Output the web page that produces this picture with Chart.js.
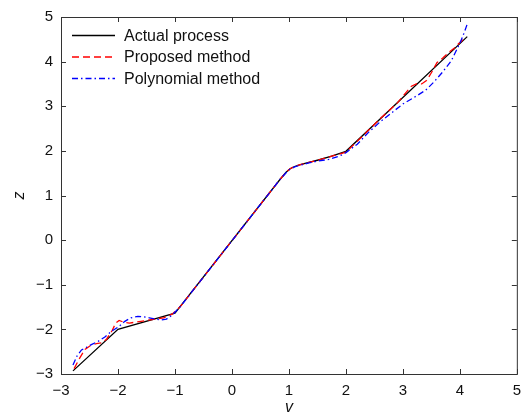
<!DOCTYPE html>
<html>
<head>
<meta charset="utf-8">
<script src="https://cdn.jsdelivr.net/npm/chart.js@4.4.1/dist/chart.umd.min.js"></script>
<style>
  html, body { margin: 0; padding: 0; background: #fff; }
  #wrap { width: 529px; height: 416px; }
</style>
</head>
<body>
<div id="wrap"><canvas id="myChart" width="529" height="416"></canvas></div>
<script>
// values (v on x, z on y)
const actualV = [-2.79, -2.0, -1.0, 0.85, 0.95, 1.02, 1.1, 1.2, 1.35, 1.5, 1.75, 2.0, 4.13];
const actualZ = [-2.93, -2.0, -1.635, 1.37, 1.52, 1.6, 1.65, 1.69, 1.74, 1.79, 1.88, 1.99, 4.56];

const proposedV = [-2.77, -2.68, -2.58, -2.48, -2.38, -2.28, -2.2, -2.1, -2.04, -1.98, -1.9, -1.8, -1.6, -1.4, -1.2, -1.05, -0.9,
  0.85, 0.95, 1.02, 1.1, 1.2, 1.35, 1.5, 1.75, 2.0, 2.3, 2.6, 2.9, 3.05, 3.15, 3.25, 3.33, 3.42, 3.5, 3.6, 3.7, 3.8, 3.9, 4.0, 4.1];
const proposedZ = [-2.88, -2.66, -2.45, -2.36, -2.32, -2.3, -2.22, -2.02, -1.86, -1.8, -1.84, -1.86, -1.82, -1.78, -1.74, -1.66, -1.48,
  1.37, 1.52, 1.6, 1.65, 1.69, 1.74, 1.79, 1.88, 1.97, 2.34, 2.72, 3.07, 3.3, 3.45, 3.51, 3.5, 3.58, 3.75, 3.98, 4.08, 4.2, 4.3, 4.43, 4.54];

const polyV = [-2.79, -2.72, -2.64, -2.55, -2.45, -2.35, -2.23, -2.1, -2.0, -1.88, -1.77, -1.65, -1.55, -1.45, -1.35, -1.25, -1.15, -1.05, -0.9,
  0.85, 0.95, 1.02, 1.1, 1.2, 1.35, 1.5, 1.7, 1.9, 2.0, 2.2, 2.4, 2.6, 2.8, 3.0, 3.2, 3.4, 3.55, 3.7, 3.85, 3.95, 4.02, 4.08, 4.14];
const polyZ = [-2.8, -2.6, -2.46, -2.4, -2.33, -2.27, -2.17, -2.03, -1.95, -1.82, -1.74, -1.71, -1.72, -1.74, -1.77, -1.79, -1.77, -1.68, -1.48,
  1.37, 1.51, 1.59, 1.64, 1.68, 1.73, 1.77, 1.81, 1.89, 1.96, 2.15, 2.42, 2.65, 2.85, 3.05, 3.2, 3.36, 3.55, 3.77, 4.02, 4.28, 4.47, 4.66, 4.88];

const seriesNames = ['Actual process', 'Proposed method', 'Polynomial method'];

function pts(xs, ys){
    return xs.map((x, i) => ({x: x, y: ys[i]}));
}

const fontFam = '"Liberation Sans", Arial, Helvetica, sans-serif';

function fmt(v){
    return String(v).replace('-', '\u2212');
}

// box round the plot + ticks pointing inward, like the original
const frameTicks = {
    id: 'frameTicks',
    afterDraw(chart){
        const ctx = chart.ctx;
        const a = chart.chartArea;
        const xs = chart.scales.x, ys = chart.scales.y;
        ctx.save();
        ctx.strokeStyle = '#333';
        ctx.lineWidth = 1;
        ctx.strokeRect(a.left + 0.5, a.top + 0.5, a.right - a.left, a.bottom - a.top);
        ctx.beginPath();
        for (let t of xs.ticks){
            let px = Math.round(xs.getPixelForValue(t.value)) + 0.5;
            ctx.moveTo(px, a.bottom); ctx.lineTo(px, a.bottom - 5);
            ctx.moveTo(px, a.top); ctx.lineTo(px, a.top + 5);
        }
        for (let t of ys.ticks){
            let py = Math.round(ys.getPixelForValue(t.value)) + 0.5;
            ctx.moveTo(a.left, py); ctx.lineTo(a.left + 5, py);
            ctx.moveTo(a.right, py); ctx.lineTo(a.right - 5, py);
        }
        ctx.stroke();
        ctx.restore();
    }
};

// legend drawn by hand so the dash styles show as lines
const lineLegend = {
    id: 'lineLegend',
    afterDraw(chart){
        const ctx = chart.ctx;
        const a = chart.chartArea;
        ctx.save();
        chart.data.datasets.forEach((ds, i) => {
            let y = a.top + 18.5 + i * 21.5;
            ctx.strokeStyle = ds.borderColor;
            ctx.lineWidth = ds.borderWidth;
            ctx.setLineDash(ds.borderDash || []);
            ctx.beginPath();
            ctx.moveTo(a.left + 11, y);
            ctx.lineTo(a.left + 54, y);
            ctx.stroke();
            ctx.setLineDash([]);
            ctx.fillStyle = '#111';
            ctx.font = '16px ' + fontFam;
            ctx.textBaseline = 'middle';
            ctx.textAlign = 'left';
            ctx.fillText(ds.label, a.left + 63, y + 1);
        });
        ctx.restore();
    }
};

const data = {
    datasets: [{
        label: seriesNames[0],
        data: pts(actualV, actualZ),
        borderColor: '#000000',
        borderWidth: 1.3,
        showLine: true,
        pointRadius: 0,
        tension: 0,
        order: 3
    }, {
        label: seriesNames[1],
        data: pts(proposedV, proposedZ),
        borderColor: '#ff0000',
        borderWidth: 1.3,
        borderDash: [7, 4],
        showLine: true,
        pointRadius: 0,
        tension: 0,
        order: 2
    }, {
        label: seriesNames[2],
        data: pts(polyV, polyZ),
        borderColor: '#0000ff',
        borderWidth: 1.3,
        borderDash: [6, 3, 1.5, 3],
        showLine: true,
        pointRadius: 0,
        tension: 0,
        order: 1
    }]
};

const config = {
    type: 'scatter',
    data: data,
    plugins: [frameTicks, lineLegend],
    options: {
        responsive: false,
        animation: false,
        layout: { padding: { top: 15, right: 9, left: 0, bottom: 0 } },
        plugins: {
            legend: { display: false },
            tooltip: { enabled: false }
        },
        scales: {
            x: {
                type: 'linear',
                min: -3, max: 5,
                afterFit(s){ s.height = 42; },
                grid: { drawOnChartArea: false, drawTicks: false },
                border: { display: false },
                ticks: {
                    stepSize: 1, padding: 8, color: '#111',
                    font: { family: fontFam, size: 15 },
                    callback: v => fmt(v)
                },
                title: {
                    display: true, text: 'v', color: '#111',
                    font: { family: fontFam, size: 16, style: 'italic', lineHeight: 1 },
                    padding: { top: 0, bottom: 0 }
                }
            },
            y: {
                type: 'linear',
                min: -3, max: 5,
                afterFit(s){ s.width = 61; },
                grid: { drawOnChartArea: false, drawTicks: false },
                border: { display: false },
                ticks: {
                    stepSize: 1, padding: 8, color: '#111',
                    font: { family: fontFam, size: 15 },
                    callback: v => fmt(v)
                },
                title: {
                    display: true, text: 'z', color: '#111',
                    font: { family: fontFam, size: 16, style: 'italic', lineHeight: 1 },
                    padding: { top: 12, bottom: 0 }
                }
            }
        }
    }
};

const myChart = new Chart(document.getElementById('myChart'), config);
</script>
</body>
</html>
